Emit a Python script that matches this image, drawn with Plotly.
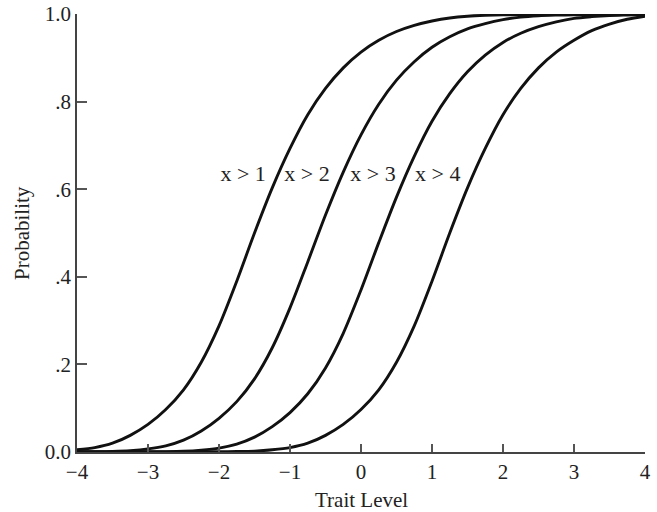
import plotly.graph_objects as go

theta = [-4.0, -3.75, -3.5, -3.25, -3.0, -2.75, -2.5, -2.25, -2.0, -1.75, -1.5, -1.25,
         -1.0, -0.75, -0.5, -0.25, 0.0, 0.25, 0.5, 0.75, 1.0, 1.25, 1.5, 1.75,
         2.0, 2.25, 2.5, 2.75, 3.0, 3.25, 3.5, 3.75, 4.0]

p_gt1 = [0.005, 0.010, 0.020, 0.038, 0.063, 0.097, 0.142, 0.205, 0.288, 0.390, 0.500, 0.603,
         0.693, 0.770, 0.830, 0.877, 0.913, 0.940, 0.960, 0.974, 0.984, 0.991, 0.995, 0.997,
         0.998, 0.9985, 0.999, 0.9993, 0.9995, 0.9997, 0.9998, 0.9999, 1.000]
p_gt2 = [0.0005, 0.0008, 0.0015, 0.0032, 0.007, 0.014, 0.027, 0.048, 0.077, 0.115, 0.167, 0.238,
         0.329, 0.434, 0.541, 0.639, 0.724, 0.794, 0.849, 0.891, 0.924, 0.948, 0.966, 0.978,
         0.987, 0.993, 0.996, 0.9974, 0.9982, 0.9987, 0.999, 0.9993, 0.9996]
p_gt3 = [0.0, 0.0, 0.0002, 0.0004, 0.0006, 0.0009, 0.0018, 0.0044, 0.009, 0.018, 0.034, 0.058,
         0.090, 0.133, 0.192, 0.271, 0.370, 0.478, 0.582, 0.675, 0.755, 0.818, 0.868, 0.906,
         0.935, 0.956, 0.971, 0.982, 0.990, 0.994, 0.9966, 0.9978, 0.9988]
p_gt4 = [0.0, 0.0, 0.0, 0.0, 0.0, 0.0001, 0.0002, 0.0004, 0.0006, 0.001, 0.002, 0.005,
         0.010, 0.020, 0.038, 0.063, 0.097, 0.142, 0.205, 0.288, 0.390, 0.500, 0.603, 0.693,
         0.770, 0.830, 0.877, 0.913, 0.940, 0.962, 0.977, 0.988, 0.995]

series = [p_gt1, p_gt2, p_gt3, p_gt4]
labels = ["x > 1", "x > 2", "x > 3", "x > 4"]
label_x = [-1.66, -0.76, 0.17, 1.08]
label_y = [0.631, 0.631, 0.631, 0.631]

x_ticks = [-4, -3, -2, -1, 0, 1, 2, 3, 4]
x_ticktext = ["\u22124", "\u22123", "\u22122", "\u22121", "0", "1", "2", "3", "4"]
y_ticks = [0.0, 0.2, 0.4, 0.6, 0.8, 1.0]
y_ticktext = ["0.0", ".2", ".4", ".6", ".8", "1.0"]

FONT = "Liberation Serif, Times New Roman, serif"
TXT = "#222"

fig = go.Figure()
for s in series:
    fig.add_trace(go.Scatter(
        x=theta, y=s, mode="lines",
        line=dict(color="#111", width=2.9, shape="spline", smoothing=0.8),
        showlegend=False, hoverinfo="skip"))

fig.add_trace(go.Scatter(
    x=label_x, y=label_y, mode="text", text=labels,
    textfont=dict(family=FONT, size=22, color=TXT),
    textposition="middle center", showlegend=False, hoverinfo="skip"))

fig.update_layout(
    width=657, height=512,
    margin=dict(l=77, r=12, t=14, b=60),
    paper_bgcolor="white", plot_bgcolor="white",
    font=dict(family=FONT, size=21, color=TXT),
    annotations=[
        dict(text="Trait Level", xref="paper", yref="paper", x=0.5, y=0,
             xanchor="center", yanchor="middle", yshift=-48, showarrow=False,
             font=dict(family=FONT, size=21, color=TXT)),
        dict(text="Probability", xref="paper", yref="paper", x=0, y=0.5,
             xanchor="center", yanchor="middle", xshift=-55, textangle=-90, showarrow=False,
             font=dict(family=FONT, size=21, color=TXT)),
    ],
)
fig.update_xaxes(
    range=[-4, 4], tickvals=x_ticks, ticktext=x_ticktext, automargin=False,
    showgrid=False, zeroline=False, showline=True, linecolor="#444", linewidth=1.5,
    ticks="inside", ticklen=8, tickwidth=1.5, tickcolor="#555",
    tickfont=dict(family=FONT, size=21, color=TXT),
)
fig.update_yaxes(
    range=[0, 1], tickvals=y_ticks, ticktext=y_ticktext, automargin=False,
    showgrid=False, zeroline=False, showline=True, linecolor="#444", linewidth=1.5,
    ticks="inside", ticklen=10, tickwidth=1.5, tickcolor="#555",
    tickfont=dict(family=FONT, size=21, color=TXT),
)

fig.write_html("out.html", config={"displayModeBar": False},
               post_script="document.body.style.margin='0';document.body.style.padding='0';")
